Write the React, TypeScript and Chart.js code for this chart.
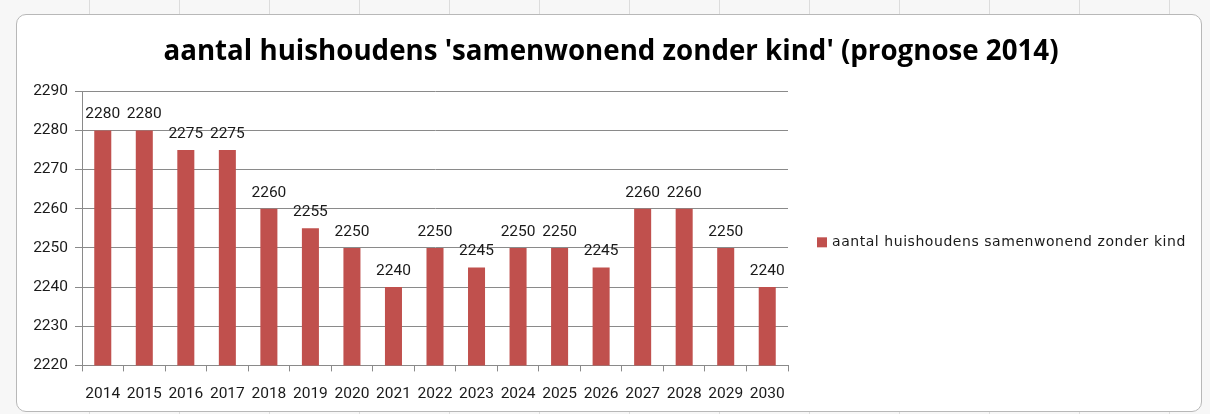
import React, { useEffect, useRef } from "react";
import { Chart, registerables } from "chart.js";

Chart.register(...registerables);

const titleText = "aantal huishoudens 'samenwonend zonder kind' (prognose 2014)";
const seriesName = "aantal huishoudens samenwonend zonder kind";
const years = ["2014", "2015", "2016", "2017", "2018", "2019", "2020", "2021", "2022", "2023", "2024", "2025", "2026", "2027", "2028", "2029", "2030"];
const households = [2280, 2280, 2275, 2275, 2260, 2255, 2250, 2240, 2250, 2245, 2250, 2250, 2245, 2260, 2260, 2250, 2240];
const yMin = 2220;
const yMax = 2290;
const yStep = 10;

const BAR_COLOR = "#c0504d";
const GRID = "#8a8a8a";
const TEXT = "#1a1a1a";
const NUM_FONT = "Roboto, sans-serif";
const NUM_SIZE = 15.5;
const LEGEND_FONT = "'DejaVu Sans', sans-serif";

const valueLabels = {
  id: "valueLabels",
  afterDatasetsDraw(chart: any) {
    const ctx = chart.ctx;
    const meta = chart.getDatasetMeta(0);
    const data = chart.data.datasets[0].data as number[];
    ctx.save();
    ctx.font = `${NUM_SIZE}px ${NUM_FONT}`;
    ctx.fillStyle = TEXT;
    ctx.textAlign = "center";
    ctx.textBaseline = "alphabetic";
    meta.data.forEach((bar: any, i: number) => {
      ctx.fillText(String(data[i]), bar.x, bar.y - 12);
    });
    ctx.restore();
  },
};

const sideLegend = {
  id: "sideLegend",
  afterDraw(chart: any) {
    const ctx = chart.ctx;
    const area = chart.chartArea;
    const ds = chart.data.datasets[0];
    const x = area.right + 29;
    const y = (area.top + area.bottom) / 2 + 14;
    ctx.save();
    ctx.fillStyle = ds.backgroundColor;
    ctx.fillRect(x, y - 5, 10, 10);
    ctx.font = `14px ${LEGEND_FONT}`;
    try {
      (ctx as any).letterSpacing = "0.55px";
    } catch (e) {}
    ctx.fillStyle = TEXT;
    ctx.textAlign = "left";
    ctx.textBaseline = "middle";
    ctx.fillText(ds.label, x + 15, y);
    ctx.restore();
  },
};

export default function App() {
  const ref = useRef<HTMLCanvasElement | null>(null);
  useEffect(() => {
    if (!ref.current) return;
    const chart = new Chart(ref.current, {
      type: "bar",
      data: {
        labels: years,
        datasets: [
          {
            label: seriesName,
            data: households,
            backgroundColor: BAR_COLOR,
            borderWidth: 0,
            barPercentage: 0.82,
            categoryPercentage: 0.5,
          },
        ],
      },
      options: {
        responsive: false,
        animation: false,
        layout: { padding: { left: 4, right: 0, top: 0, bottom: -5 } },
        plugins: {
          title: {
            display: true,
            text: titleText,
            color: "#000",
            font: { family: "'Open Sans', sans-serif", size: 27.7, weight: "bold" },
            padding: { top: 20, bottom: 23 },
          },
          legend: { display: false },
          tooltip: { enabled: false },
        },
        scales: {
          x: {
            grid: { display: true, drawOnChartArea: false, drawTicks: true, tickLength: 6, color: GRID, offset: true },
            border: { color: GRID },
            ticks: { color: TEXT, font: { family: NUM_FONT, size: NUM_SIZE }, padding: 13, maxRotation: 0 },
          },
          y: {
            min: yMin,
            max: yMax,
            grid: { color: GRID, tickLength: 7 },
            border: { color: GRID },
            ticks: {
              stepSize: yStep,
              color: TEXT,
              font: { family: NUM_FONT, size: NUM_SIZE },
              padding: 7,
              callback: (v: any) => String(v),
            },
            afterFit: (scale: any) => {
              scale.width = 61;
            },
          },
          legendSpace: {
            type: "linear",
            position: "right",
            display: true,
            grid: { display: false, drawTicks: false },
            border: { display: false },
            ticks: { display: false },
            afterFit: (scale: any) => {
              scale.width = 413;
            },
          },
        },
      },
      plugins: [valueLabels, sideLegend],
    });
    return () => chart.destroy();
  }, []);

  return (
    <div
      style={{
        position: "fixed",
        left: 0,
        top: 0,
        width: 1210,
        height: 414,
        background: "#f7f7f7",
        backgroundImage:
          "repeating-linear-gradient(to right, transparent 0 89px, #dcdcdc 89px 90px)",
        overflow: "hidden",
      }}
    >
      <div
        style={{
          position: "absolute",
          left: 16,
          top: 14,
          width: 1186,
          height: 398,
          background: "#fff",
          border: "1px solid #b8b8b8",
          borderRadius: 10,
          boxSizing: "border-box",
          overflow: "hidden",
        }}
      >
        <canvas ref={ref} width={1184} height={396} style={{ display: "block" }} />
      </div>
    </div>
  );
}
